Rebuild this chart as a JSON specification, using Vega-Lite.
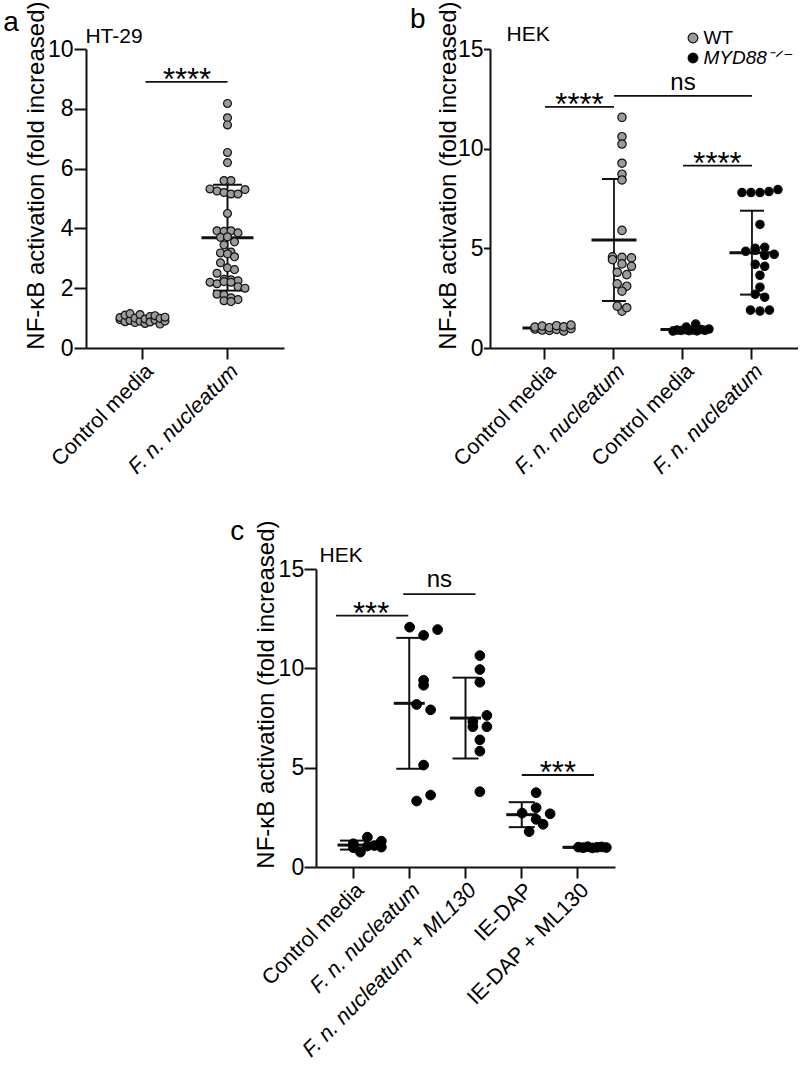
{
  "padding": {"left": 3, "top": 0, "right": 0, "bottom": 0},
  "config": {
    "view": {"stroke": null},
    "font": "Liberation Sans",
    "axis": {"domainColor": "#111", "domainWidth": 2, "tickColor": "#111", "tickWidth": 2, "labelColor": "#000", "titleFontSize": 24, "titleFontWeight": "normal", "titleColor": "#000", "grid": false, "labelFont": "Liberation Sans", "titleFont": "Liberation Sans", "labelOverlap": false},
    "axisX": {"tickSize": 11, "labelAngle": -45, "labelPadding": 1, "labelLimit": 400, "labelFontSize": 21.5},
    "axisY": {"labelFontSize": 23, "titleAlign": "right", "titleBaseline": "alphabetic", "titleAnchor": "end"},
    "text": {"font": "Liberation Sans", "color": "#000"},
    "title": {"font": "Liberation Sans", "color": "#000", "fontWeight": "normal"}
  },
  "datasets": {
    "ptsA": [
      {"group": "Control media", "value": 0.95}, {"group": "Control media", "value": 1.02}, {"group": "Control media", "value": 0.88}, {"group": "Control media", "value": 1.1}, {"group": "Control media", "value": 0.92}, {"group": "Control media", "value": 1.15}, {"group": "Control media", "value": 0.85}, {"group": "Control media", "value": 1.0}, {"group": "Control media", "value": 0.9}, {"group": "Control media", "value": 1.12}, {"group": "Control media", "value": 0.82}, {"group": "Control media", "value": 0.97}, {"group": "Control media", "value": 1.05}, {"group": "Control media", "value": 0.87}, {"group": "Control media", "value": 0.94}, {"group": "Control media", "value": 1.08}, {"group": "Control media", "value": 0.8}, {"group": "Control media", "value": 0.99}, {"group": "Control media", "value": 0.9}, {"group": "Control media", "value": 1.03},
      {"group": "F. n. nucleatum", "value": 8.18}, {"group": "F. n. nucleatum", "value": 7.7}, {"group": "F. n. nucleatum", "value": 7.46}, {"group": "F. n. nucleatum", "value": 6.54}, {"group": "F. n. nucleatum", "value": 6.2}, {"group": "F. n. nucleatum", "value": 5.6}, {"group": "F. n. nucleatum", "value": 5.6}, {"group": "F. n. nucleatum", "value": 5.32}, {"group": "F. n. nucleatum", "value": 5.25}, {"group": "F. n. nucleatum", "value": 5.2}, {"group": "F. n. nucleatum", "value": 5.15}, {"group": "F. n. nucleatum", "value": 5.15}, {"group": "F. n. nucleatum", "value": 5.3}, {"group": "F. n. nucleatum", "value": 4.5}, {"group": "F. n. nucleatum", "value": 3.92}, {"group": "F. n. nucleatum", "value": 3.9}, {"group": "F. n. nucleatum", "value": 3.92}, {"group": "F. n. nucleatum", "value": 3.85}, {"group": "F. n. nucleatum", "value": 3.7}, {"group": "F. n. nucleatum", "value": 3.72}, {"group": "F. n. nucleatum", "value": 3.55}, {"group": "F. n. nucleatum", "value": 3.45}, {"group": "F. n. nucleatum", "value": 3.21}, {"group": "F. n. nucleatum", "value": 3.18}, {"group": "F. n. nucleatum", "value": 3.15}, {"group": "F. n. nucleatum", "value": 3.05}, {"group": "F. n. nucleatum", "value": 2.85}, {"group": "F. n. nucleatum", "value": 2.68}, {"group": "F. n. nucleatum", "value": 2.62}, {"group": "F. n. nucleatum", "value": 2.5}, {"group": "F. n. nucleatum", "value": 2.3}, {"group": "F. n. nucleatum", "value": 2.28}, {"group": "F. n. nucleatum", "value": 2.25}, {"group": "F. n. nucleatum", "value": 2.2}, {"group": "F. n. nucleatum", "value": 2.15}, {"group": "F. n. nucleatum", "value": 2.22}, {"group": "F. n. nucleatum", "value": 2.2}, {"group": "F. n. nucleatum", "value": 2.05}, {"group": "F. n. nucleatum", "value": 2.0}, {"group": "F. n. nucleatum", "value": 1.8}, {"group": "F. n. nucleatum", "value": 1.78}, {"group": "F. n. nucleatum", "value": 1.68}, {"group": "F. n. nucleatum", "value": 1.62}, {"group": "F. n. nucleatum", "value": 1.58}, {"group": "F. n. nucleatum", "value": 1.55}
    ],
    "sigA": [
      {"group": "Control media", "to": "F. n. nucleatum", "value": 8.9, "label": "****"}
    ],
    "cellA": [{"group": "Control media", "value": 10.2, "cell": "HT-29"}],
    "ptsB": [
      {"group": "Control media|WT", "genotype": "WT", "value": 0.95}, {"group": "Control media|WT", "genotype": "WT", "value": 1.05}, {"group": "Control media|WT", "genotype": "WT", "value": 0.9}, {"group": "Control media|WT", "genotype": "WT", "value": 1.1}, {"group": "Control media|WT", "genotype": "WT", "value": 0.88}, {"group": "Control media|WT", "genotype": "WT", "value": 1.02}, {"group": "Control media|WT", "genotype": "WT", "value": 0.93}, {"group": "Control media|WT", "genotype": "WT", "value": 1.12}, {"group": "Control media|WT", "genotype": "WT", "value": 0.85}, {"group": "Control media|WT", "genotype": "WT", "value": 1.06}, {"group": "Control media|WT", "genotype": "WT", "value": 0.97}, {"group": "Control media|WT", "genotype": "WT", "value": 1.15},
      {"group": "F. n. nucleatum|WT", "genotype": "WT", "value": 11.57}, {"group": "F. n. nucleatum|WT", "genotype": "WT", "value": 10.6}, {"group": "F. n. nucleatum|WT", "genotype": "WT", "value": 10.23}, {"group": "F. n. nucleatum|WT", "genotype": "WT", "value": 9.27}, {"group": "F. n. nucleatum|WT", "genotype": "WT", "value": 8.72}, {"group": "F. n. nucleatum|WT", "genotype": "WT", "value": 8.43}, {"group": "F. n. nucleatum|WT", "genotype": "WT", "value": 5.9}, {"group": "F. n. nucleatum|WT", "genotype": "WT", "value": 4.57}, {"group": "F. n. nucleatum|WT", "genotype": "WT", "value": 4.43}, {"group": "F. n. nucleatum|WT", "genotype": "WT", "value": 4.55}, {"group": "F. n. nucleatum|WT", "genotype": "WT", "value": 4.22}, {"group": "F. n. nucleatum|WT", "genotype": "WT", "value": 4.52}, {"group": "F. n. nucleatum|WT", "genotype": "WT", "value": 4.1}, {"group": "F. n. nucleatum|WT", "genotype": "WT", "value": 3.8}, {"group": "F. n. nucleatum|WT", "genotype": "WT", "value": 3.68}, {"group": "F. n. nucleatum|WT", "genotype": "WT", "value": 3.22}, {"group": "F. n. nucleatum|WT", "genotype": "WT", "value": 3.1}, {"group": "F. n. nucleatum|WT", "genotype": "WT", "value": 2.85}, {"group": "F. n. nucleatum|WT", "genotype": "WT", "value": 1.85}, {"group": "F. n. nucleatum|WT", "genotype": "WT", "value": 2.1}, {"group": "F. n. nucleatum|WT", "genotype": "WT", "value": 2.02},
      {"group": "Control media|MYD88", "genotype": "MYD88", "value": 0.85}, {"group": "Control media|MYD88", "genotype": "MYD88", "value": 0.9}, {"group": "Control media|MYD88", "genotype": "MYD88", "value": 0.88}, {"group": "Control media|MYD88", "genotype": "MYD88", "value": 0.92}, {"group": "Control media|MYD88", "genotype": "MYD88", "value": 0.87}, {"group": "Control media|MYD88", "genotype": "MYD88", "value": 0.9}, {"group": "Control media|MYD88", "genotype": "MYD88", "value": 0.86}, {"group": "Control media|MYD88", "genotype": "MYD88", "value": 0.93}, {"group": "Control media|MYD88", "genotype": "MYD88", "value": 0.89}, {"group": "Control media|MYD88", "genotype": "MYD88", "value": 0.95}, {"group": "Control media|MYD88", "genotype": "MYD88", "value": 1.05}, {"group": "Control media|MYD88", "genotype": "MYD88", "value": 1.2},
      {"group": "F. n. nucleatum|MYD88", "genotype": "MYD88", "value": 7.8}, {"group": "F. n. nucleatum|MYD88", "genotype": "MYD88", "value": 7.8}, {"group": "F. n. nucleatum|MYD88", "genotype": "MYD88", "value": 7.8}, {"group": "F. n. nucleatum|MYD88", "genotype": "MYD88", "value": 7.85}, {"group": "F. n. nucleatum|MYD88", "genotype": "MYD88", "value": 7.95}, {"group": "F. n. nucleatum|MYD88", "genotype": "MYD88", "value": 6.2}, {"group": "F. n. nucleatum|MYD88", "genotype": "MYD88", "value": 4.85}, {"group": "F. n. nucleatum|MYD88", "genotype": "MYD88", "value": 4.9}, {"group": "F. n. nucleatum|MYD88", "genotype": "MYD88", "value": 5.0}, {"group": "F. n. nucleatum|MYD88", "genotype": "MYD88", "value": 5.05}, {"group": "F. n. nucleatum|MYD88", "genotype": "MYD88", "value": 4.65}, {"group": "F. n. nucleatum|MYD88", "genotype": "MYD88", "value": 4.7}, {"group": "F. n. nucleatum|MYD88", "genotype": "MYD88", "value": 4.2}, {"group": "F. n. nucleatum|MYD88", "genotype": "MYD88", "value": 4.1}, {"group": "F. n. nucleatum|MYD88", "genotype": "MYD88", "value": 3.65}, {"group": "F. n. nucleatum|MYD88", "genotype": "MYD88", "value": 3.05}, {"group": "F. n. nucleatum|MYD88", "genotype": "MYD88", "value": 2.7}, {"group": "F. n. nucleatum|MYD88", "genotype": "MYD88", "value": 2.55}, {"group": "F. n. nucleatum|MYD88", "genotype": "MYD88", "value": 1.9}, {"group": "F. n. nucleatum|MYD88", "genotype": "MYD88", "value": 1.85}, {"group": "F. n. nucleatum|MYD88", "genotype": "MYD88", "value": 1.9}
    ],
    "sigB": [
      {"group": "Control media|WT", "to": "F. n. nucleatum|WT", "value": 12.1, "label": "****"},
      {"group": "Control media|MYD88", "to": "F. n. nucleatum|MYD88", "value": 9.15, "label": "****"},
      {"group": "F. n. nucleatum|WT", "to": "F. n. nucleatum|MYD88", "mid": "Control media|MYD88", "value": 12.65, "label": "ns"}
    ],
    "cellB": [{"group": "Control media|WT", "value": 15.4, "cell": "HEK"}],
    "ptsC": [
      {"group": "Control media", "value": 0.97}, {"group": "Control media", "value": 1.17}, {"group": "Control media", "value": 1.5}, {"group": "Control media", "value": 1.3}, {"group": "Control media", "value": 0.75}, {"group": "Control media", "value": 1.05}, {"group": "Control media", "value": 1.08}, {"group": "Control media", "value": 1.0},
      {"group": "F. n. nucleatum", "value": 12.07}, {"group": "F. n. nucleatum", "value": 11.66}, {"group": "F. n. nucleatum", "value": 11.95}, {"group": "F. n. nucleatum", "value": 9.4}, {"group": "F. n. nucleatum", "value": 9.15}, {"group": "F. n. nucleatum", "value": 8.18}, {"group": "F. n. nucleatum", "value": 7.91}, {"group": "F. n. nucleatum", "value": 5.13}, {"group": "F. n. nucleatum", "value": 3.32}, {"group": "F. n. nucleatum", "value": 3.62},
      {"group": "F. n. nucleatum + ML130", "value": 10.64}, {"group": "F. n. nucleatum + ML130", "value": 9.94}, {"group": "F. n. nucleatum + ML130", "value": 9.3}, {"group": "F. n. nucleatum + ML130", "value": 7.31}, {"group": "F. n. nucleatum + ML130", "value": 7.63}, {"group": "F. n. nucleatum + ML130", "value": 7.06}, {"group": "F. n. nucleatum + ML130", "value": 7.06}, {"group": "F. n. nucleatum + ML130", "value": 6.4}, {"group": "F. n. nucleatum + ML130", "value": 5.83}, {"group": "F. n. nucleatum + ML130", "value": 3.79},
      {"group": "IE-DAP", "value": 3.74}, {"group": "IE-DAP", "value": 2.98}, {"group": "IE-DAP", "value": 2.71}, {"group": "IE-DAP", "value": 2.4}, {"group": "IE-DAP", "value": 2.68}, {"group": "IE-DAP", "value": 1.78}, {"group": "IE-DAP", "value": 2.15},
      {"group": "IE-DAP + ML130", "value": 1.0}, {"group": "IE-DAP + ML130", "value": 0.97}, {"group": "IE-DAP + ML130", "value": 1.02}, {"group": "IE-DAP + ML130", "value": 0.96}, {"group": "IE-DAP + ML130", "value": 0.99}, {"group": "IE-DAP + ML130", "value": 1.01}, {"group": "IE-DAP + ML130", "value": 0.98}
    ],
    "sigC": [
      {"group": "Control media", "to": "F. n. nucleatum", "value": 12.65, "label": "***"},
      {"group": "IE-DAP", "to": "IE-DAP + ML130", "value": 4.63, "label": "***"},
      {"group": "F. n. nucleatum", "to": "F. n. nucleatum + ML130", "value": 13.74, "label": "ns"}
    ],
    "cellC": [{"group": "Control media", "value": 15.35, "cell": "HEK"}]
  },
  "vconcat": [
    {
      "hconcat": [
        {
          "title": {"text": "a", "anchor": "start", "frame": "bounds", "fontSize": 28, "baseline": "alphabetic", "offset": -58, "dx": -20.8},
          "vconcat": [
            {
              "width": 198, "height": 299,
              "encoding": {
                "x": {"field": "group", "type": "nominal", "title": null, "scale": {"type": "band", "domain": ["Control media", "F. n. nucleatum"], "paddingInner": 0, "paddingOuter": 0.165}, "axis": {"labelFontStyle": {"condition": {"test": "indexof(datum.value, 'nucleatum') >= 0", "value": "italic"}, "value": "normal"}}},
                "y": {"field": "value", "type": "quantitative", "title": "NF-κB activation (fold increased)", "scale": {"domain": [0, 10], "nice": false}, "axis": {"values": [0, 2, 4, 6, 8, 10], "tickSize": 12, "labelPadding": 1, "titleX": -43, "titleY": -48}}
              },
              "layer": [
                {"data": {"name": "ptsA"}, "mark": {"type": "errorbar", "extent": "stdev", "ticks": {"size": 29, "thickness": 2, "color": "#111", "opacity": 1}, "rule": {"strokeWidth": 2, "color": "#111"}}},
                {"data": {"name": "ptsA"}, "mark": {"type": "tick", "size": 52, "thickness": 3, "color": "#111", "opacity": 1}, "encoding": {"y": {"field": "value", "type": "quantitative", "aggregate": "mean", "title": "NF-κB activation (fold increased)"}}},
                {"data": {"name": "ptsA"},
                 "transform": [
                   {"calculate": "floor(datum.value / 0.32)", "as": "bin"},
                   {"window": [{"op": "row_number", "as": "idx"}, {"op": "count", "as": "n"}], "groupby": ["group", "bin"], "frame": [null, null]},
                   {"calculate": "(datum.idx - (datum.n + 1) / 2) * min(7, 45 / max(1, datum.n - 1))", "as": "off"}
                 ],
                 "mark": {"type": "point", "shape": "circle", "filled": true, "size": 62, "fill": "#9b9b9b", "stroke": "#111", "strokeWidth": 1.2, "opacity": 1},
                 "encoding": {"xOffset": {"field": "off", "type": "quantitative", "scale": {"domain": [-42.5, 42.5], "nice": false, "zero": false}}}},
                {"data": {"name": "sigA"}, "mark": {"type": "rule", "strokeWidth": 1.8, "color": "#111", "xOffset": 3}, "encoding": {"x": {"field": "group", "type": "nominal", "bandPosition": 0.5, "title": null}, "x2": {"field": "to", "title": null}}},
                {"data": {"name": "sigA"}, "mark": {"type": "text", "fontSize": 31, "dy": 8, "dx": 2, "baseline": "alphabetic"}, "encoding": {"x": {"field": "group", "type": "nominal", "bandPosition": 1, "title": null}, "text": {"field": "label"}}},
                {"data": {"name": "cellA"}, "mark": {"type": "text", "fontSize": 21, "align": "left", "baseline": "alphabetic", "dx": -14.6}, "encoding": {"x": {"field": "group", "type": "nominal", "bandPosition": 0, "title": null}, "text": {"field": "cell"}}}
              ]
            }
          ]
        },
        {
          "title": {"text": "b", "anchor": "start", "frame": "bounds", "fontSize": 28, "baseline": "alphabetic", "offset": -55, "dx": -26},
          "vconcat": [
            {
              "width": 308, "height": 299,
              "encoding": {
                "x": {"field": "group", "type": "nominal", "title": null, "scale": {"type": "band", "domain": ["Control media|WT", "F. n. nucleatum|WT", "Control media|MYD88", "F. n. nucleatum|MYD88"], "paddingInner": 0, "paddingOuter": 0.232, "align": 0.64}, "axis": {"labelExpr": "split(datum.label, '|')[0]", "labelFontStyle": {"condition": {"test": "indexof(datum.value, 'nucleatum') >= 0", "value": "italic"}, "value": "normal"}}},
                "y": {"field": "value", "type": "quantitative", "title": "NF-κB activation (fold increased)", "scale": {"domain": [0, 15], "nice": false}, "axis": {"values": [0, 5, 10, 15], "tickSize": 6.5, "labelPadding": 0.5, "titleX": -35, "titleY": -48}}
              },
              "layer": [
                {"data": {"name": "ptsB"}, "mark": {"type": "errorbar", "extent": "stdev", "ticks": {"size": 24, "thickness": 2, "color": "#111", "opacity": 1}, "rule": {"strokeWidth": 1.8, "color": "#111"}}},
                {"data": {"name": "ptsB"}, "mark": {"type": "tick", "size": 45, "thickness": 3, "color": "#111", "opacity": 1}, "encoding": {"y": {"field": "value", "type": "quantitative", "aggregate": "mean", "title": "NF-κB activation (fold increased)"}}},
                {"data": {"name": "ptsB"},
                 "transform": [
                   {"calculate": "floor(datum.value / 0.5)", "as": "bin"},
                   {"window": [{"op": "row_number", "as": "idx"}, {"op": "count", "as": "n"}], "groupby": ["group", "bin"], "frame": [null, null]},
                   {"calculate": "(datum.idx - (datum.n + 1) / 2) * min(9.5, 36 / max(1, datum.n - 1))", "as": "off"}
                 ],
                 "mark": {"type": "point", "shape": "circle", "filled": true, "size": 70, "stroke": "#111", "strokeWidth": 1.2, "opacity": 1},
                 "encoding": {
                   "xOffset": {"field": "off", "type": "quantitative", "scale": {"domain": [-34.5, 34.5], "nice": false, "zero": false}},
                   "fill": {"field": "genotype", "type": "nominal", "scale": {"domain": ["WT", "MYD88"], "range": ["#9b9b9b", "#000000"]},
                     "legend": {"orient": "none", "legendX": 597.5, "legendY": -20.5, "title": null, "labelFontSize": 19, "labelFont": "Liberation Sans", "labelColor": "#000", "symbolType": "circle", "symbolSize": 95, "symbolStrokeColor": "#111", "symbolStrokeWidth": 1.2, "symbolOpacity": 1, "labelExpr": "datum.value == 'MYD88' ? 'MYD88⁻ᐟ⁻' : datum.label", "rowPadding": 0, "labelOffset": 1, "padding": 0,
                       "encode": {"labels": {"update": {"fontStyle": {"signal": "datum.value == 'MYD88' ? 'italic' : 'normal'"}}}}}}
                 }},
                {"data": {"name": "sigB"}, "mark": {"type": "rule", "strokeWidth": 1.8, "color": "#111"}, "encoding": {"x": {"field": "group", "type": "nominal", "bandPosition": 0.5, "title": null}, "x2": {"field": "to", "title": null}}},
                {"data": {"name": "sigB"}, "transform": [{"filter": "datum.label != 'ns'"}], "mark": {"type": "text", "fontSize": 31, "dy": 8, "baseline": "alphabetic"}, "encoding": {"x": {"field": "group", "type": "nominal", "bandPosition": 1, "title": null}, "text": {"field": "label"}}},
                {"data": {"name": "sigB"}, "transform": [{"filter": "datum.label == 'ns'"}], "mark": {"type": "text", "fontSize": 24, "dy": -6, "baseline": "alphabetic"}, "encoding": {"x": {"field": "mid", "type": "nominal", "bandPosition": 0.5, "title": null}, "text": {"field": "label"}}},
                {"data": {"name": "cellB"}, "mark": {"type": "text", "fontSize": 21, "align": "left", "baseline": "alphabetic", "dx": -4}, "encoding": {"x": {"field": "group", "type": "nominal", "bandPosition": 0, "title": null}, "text": {"field": "cell"}}}
              ]
            }
          ]
        }
      ],
      "spacing": 125
    },
    {
      "hconcat": [
        {"width": 144, "height": 10, "data": {"values": []}, "mark": "point"},
        {
          "title": {"text": "c", "anchor": "start", "frame": "bounds", "fontSize": 28, "baseline": "alphabetic", "offset": -48, "dx": -24.3},
          "vconcat": [
            {
              "width": 299, "height": 298,
              "encoding": {
                "x": {"field": "group", "type": "nominal", "title": null, "scale": {"type": "band", "domain": ["Control media", "F. n. nucleatum", "F. n. nucleatum + ML130", "IE-DAP", "IE-DAP + ML130"], "paddingInner": 0, "paddingOuter": 0.158}, "axis": {"labelFontStyle": {"condition": {"test": "indexof(datum.value, 'nucleatum') >= 0", "value": "italic"}, "value": "normal"}}},
                "y": {"field": "value", "type": "quantitative", "title": "NF-κB activation (fold increased)", "scale": {"domain": [0, 15], "nice": false}, "axis": {"values": [0, 5, 10, 15], "tickSize": 12, "labelPadding": 0.3, "titleX": -42.5, "titleY": -49}}
              },
              "layer": [
                {"data": {"name": "ptsC"}, "mark": {"type": "errorbar", "extent": "stdev", "ticks": {"size": 26, "thickness": 2, "color": "#111", "opacity": 1}, "rule": {"strokeWidth": 2, "color": "#111"}}},
                {"data": {"name": "ptsC"}, "mark": {"type": "tick", "size": 31, "thickness": 3, "color": "#111", "opacity": 1}, "encoding": {"y": {"field": "value", "type": "quantitative", "aggregate": "mean", "title": "NF-κB activation (fold increased)"}}},
                {"data": {"name": "ptsC"},
                 "transform": [
                   {"calculate": "floor(datum.value / 0.55)", "as": "bin"},
                   {"window": [{"op": "row_number", "as": "idx"}, {"op": "count", "as": "n"}], "groupby": ["group", "bin"], "frame": [null, null]},
                   {"calculate": "(datum.idx - (datum.n + 1) / 2) * min(14, 28 / max(1, datum.n - 1))", "as": "off"}
                 ],
                 "mark": {"type": "point", "shape": "circle", "filled": true, "size": 95, "fill": "#000", "stroke": "#000", "strokeWidth": 1, "opacity": 1},
                 "encoding": {"xOffset": {"field": "off", "type": "quantitative", "scale": {"domain": [-28.125, 28.125], "nice": false, "zero": false}}}},
                {"data": {"name": "sigC"}, "transform": [{"filter": "datum.group == 'Control media'"}], "mark": {"type": "rule", "strokeWidth": 1.8, "color": "#111", "xOffset": -17, "x2Offset": -1}, "encoding": {"x": {"field": "group", "type": "nominal", "bandPosition": 0.5, "title": null}, "x2": {"field": "to", "title": null}}},
                {"data": {"name": "sigC"}, "transform": [{"filter": "datum.group == 'IE-DAP'"}], "mark": {"type": "rule", "strokeWidth": 1.8, "color": "#111", "x2Offset": 16}, "encoding": {"x": {"field": "group", "type": "nominal", "bandPosition": 0.5, "title": null}, "x2": {"field": "to", "title": null}}},
                {"data": {"name": "sigC"}, "transform": [{"filter": "datum.label == 'ns'"}], "mark": {"type": "rule", "strokeWidth": 1.8, "color": "#111", "xOffset": -6, "x2Offset": 10}, "encoding": {"x": {"field": "group", "type": "nominal", "bandPosition": 0.5, "title": null}, "x2": {"field": "to", "title": null}}},
                {"data": {"name": "sigC"}, "transform": [{"filter": "datum.group == 'Control media'"}], "mark": {"type": "text", "fontSize": 31, "dy": 8, "dx": -10, "baseline": "alphabetic"}, "encoding": {"x": {"field": "group", "type": "nominal", "bandPosition": 1, "title": null}, "text": {"field": "label"}}},
                {"data": {"name": "sigC"}, "transform": [{"filter": "datum.group == 'IE-DAP'"}], "mark": {"type": "text", "fontSize": 31, "dy": 8, "dx": 8, "baseline": "alphabetic"}, "encoding": {"x": {"field": "group", "type": "nominal", "bandPosition": 1, "title": null}, "text": {"field": "label"}}},
                {"data": {"name": "sigC"}, "transform": [{"filter": "datum.label == 'ns'"}], "mark": {"type": "text", "fontSize": 24, "dy": -7, "dx": 2, "baseline": "alphabetic"}, "encoding": {"x": {"field": "group", "type": "nominal", "bandPosition": 1, "title": null}, "text": {"field": "label"}}},
                {"data": {"name": "cellC"}, "mark": {"type": "text", "fontSize": 21, "align": "left", "baseline": "alphabetic", "dx": -5.4}, "encoding": {"x": {"field": "group", "type": "nominal", "bandPosition": 0, "title": null}, "text": {"field": "cell"}}}
              ]
            }
          ]
        }
      ],
      "spacing": 0
    }
  ],
  "spacing": 39
}
